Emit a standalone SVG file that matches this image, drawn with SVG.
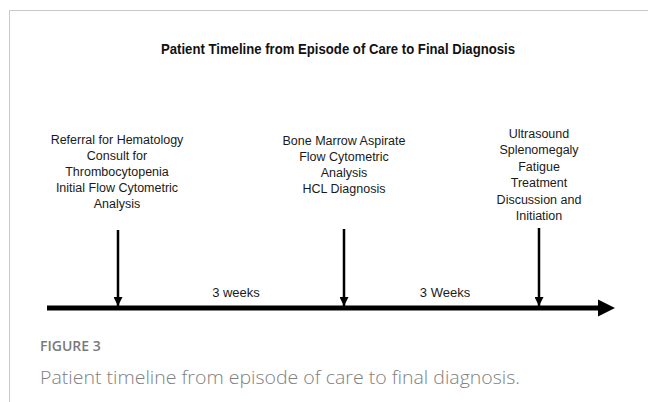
<svg xmlns="http://www.w3.org/2000/svg" width="648" height="402" viewBox="0 0 648 402">
<style>
.lbl{font-family:"Liberation Sans",Arial,sans-serif;font-size:12.5px;fill:#1a1a1a;text-anchor:middle}
.wk{font-family:"Liberation Sans",Arial,sans-serif;font-size:13px;fill:#1a1a1a;text-anchor:middle}
.title{font-family:"Liberation Sans",Arial,sans-serif;font-size:14px;font-weight:bold;fill:#111}
.cap1{font-family:"Open Sans","Liberation Sans",sans-serif;font-size:14px;font-weight:600;fill:#7a7a7a}
.cap2{font-family:"Open Sans","Liberation Sans",sans-serif;font-size:18px;font-weight:300;fill:#808080}
.ev{stroke:#000;stroke-width:2.5}
</style>
<defs>
<marker id="ah" viewBox="0 0 10 10" refX="10" refY="5" markerWidth="3.6" markerHeight="3.6" orient="auto" markerUnits="strokeWidth">
<path d="M0,0 L10,5 L0,10 Z" fill="#000"/>
</marker>
</defs>
<rect width="648" height="402" fill="#fff"/>
<path d="M9.5,402 V10.5 H648" fill="none" stroke="#c8c8c8" stroke-width="1"/>
<text class="title" x="161" y="54" textLength="354" lengthAdjust="spacingAndGlyphs">Patient Timeline from Episode of Care to Final Diagnosis</text>
<g id="connectors">
<g id="timeline-axis">
<line x1="47" y1="308" x2="600" y2="308" stroke="#000" stroke-width="5"/>
<polygon points="598,299.5 615,308 598,316.5" fill="#000"/>
</g>
<line class="ev" x1="118" y1="230" x2="118" y2="306" marker-end="url(#ah)"/>
<line class="ev" x1="344" y1="229" x2="344" y2="306" marker-end="url(#ah)"/>
<line class="ev" x1="539" y1="228" x2="539" y2="306" marker-end="url(#ah)"/>
<text class="wk" x="236" y="297">3 weeks</text>
<text class="wk" x="445" y="297">3 Weeks</text>
</g>
<g id="event-referral">
<text class="lbl" x="117" y="143.5">Referral for Hematology</text>
<text class="lbl" x="117" y="159.7">Consult for</text>
<text class="lbl" x="117" y="175.9">Thrombocytopenia</text>
<text class="lbl" x="117" y="192.1">Initial Flow Cytometric</text>
<text class="lbl" x="117" y="208.3">Analysis</text>
</g>
<g id="event-bone-marrow">
<text class="lbl" x="344" y="144.5">Bone Marrow Aspirate</text>
<text class="lbl" x="344" y="160.7">Flow Cytometric</text>
<text class="lbl" x="344" y="176.9">Analysis</text>
<text class="lbl" x="344" y="193.1">HCL Diagnosis</text>
</g>
<g id="event-ultrasound">
<text class="lbl" x="539" y="137.5">Ultrasound</text>
<text class="lbl" x="539" y="154">Splenomegaly</text>
<text class="lbl" x="539" y="170.5">Fatigue</text>
<text class="lbl" x="539" y="187">Treatment</text>
<text class="lbl" x="539" y="203.5">Discussion and</text>
<text class="lbl" x="539" y="220">Initiation</text>
</g>
<text class="cap1" x="40" y="351">FIGURE 3</text>
<text class="cap2" x="40" y="384" textLength="480" lengthAdjust="spacingAndGlyphs">Patient timeline from episode of care to final diagnosis.</text>
</svg>
